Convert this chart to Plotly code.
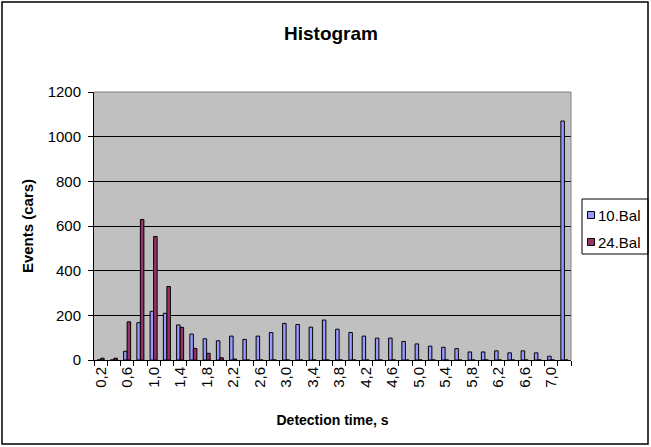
import plotly.graph_objects as go

categories = ["0,2", "0,4", "0,6", "0,8", "1,0", "1,2", "1,4", "1,6", "1,8", "2,0",
              "2,2", "2,4", "2,6", "2,8", "3,0", "3,2", "3,4", "3,6", "3,8", "4,0",
              "4,2", "4,4", "4,6", "4,8", "5,0", "5,2", "5,4", "5,6", "5,8", "6,0",
              "6,2", "6,4", "6,6", "6,8", "7,0", "7,2"]
bal10 = [0, 0, 39, 167, 218, 209, 157, 116, 95, 86,
         107, 92, 107, 123, 164, 159, 147, 179, 138, 123,
         107, 98, 98, 83, 72, 62, 57, 51, 36, 36,
         41, 32, 41, 32, 17, 1070]
bal24 = [8, 8, 171, 629, 553, 329, 146, 52, 30, 10,
         4, 0, 0, 0, 0, 0, 0, 0, 0, 0,
         0, 0, 0, 0, 0, 0, 0, 0, 0, 0,
         0, 0, 0, 0, 0, 0]
series_names = ["10.Bal", "24.Bal"]
series_colors = ["#9999FF", "#993366"]
tick_text = [c if i % 2 == 0 else "" for i, c in enumerate(categories)]

W, H = 651, 447
L, R, T, B = 94, 80, 92, 87
pw, ph = W - L - R, H - T - B

def px(x):
    return (x - L) / pw

def py(y):
    return (H - B - y) / ph

font = "Arial, Liberation Sans, sans-serif"

fig = go.Figure()
for name, vals, col in zip(series_names, [bal10, bal24], series_colors):
    fig.add_trace(go.Bar(x=categories, y=vals, name=name, showlegend=False,
                         marker=dict(color=col, line=dict(color="#000000", width=1))))

fig.update_layout(
    width=W, height=H,
    margin=dict(l=L, r=R, t=T, b=B, autoexpand=False),
    paper_bgcolor="white", plot_bgcolor="#C0C0C0",
    barmode="group", bargap=0.47, bargroupgap=0,
    font=dict(family=font, size=12, color="black"),
    title=dict(text="<b>Histogram</b>", x=331 / W, xanchor="center", xref="container",
               y=1 - 33 / H, yanchor="middle", yref="container",
               font=dict(size=19, family=font)),
    showlegend=False,
)
fig.update_xaxes(type="category", categoryorder="array", categoryarray=categories,
                 tickmode="array", tickvals=categories, ticktext=tick_text,
                 tickson="boundaries", ticks="outside", ticklen=5, tickcolor="black",
                 tickangle=-90, tickfont=dict(size=15, family=font),
                 showline=True, linecolor="black", linewidth=1, showgrid=False,
                 automargin=False,
                 range=[-0.5, len(categories) - 0.5],
                 title=dict(text="<b>Detection time, s</b>", font=dict(size=14, family=font),
                            standoff=28))
fig.update_yaxes(range=[0, 1200], dtick=200, tick0=0, ticks="outside", ticklen=5,
                 tickcolor="black", tickfont=dict(size=15, family=font),
                 ticklabelstandoff=4, automargin=False,
                 showline=True, linecolor="black", linewidth=1,
                 showgrid=True, gridcolor="black", gridwidth=1, zeroline=False,
                 title=dict(text="<b>Events (cars)</b>", font=dict(size=15, family=font),
                            standoff=10))

# plot area border (top/right, gray)
fig.add_shape(type="line", xref="paper", yref="paper", x0=0, x1=1, y0=1, y1=1,
              line=dict(color="#808080", width=1))
fig.add_shape(type="line", xref="paper", yref="paper", x0=1, x1=1, y0=0, y1=1,
              line=dict(color="#808080", width=1))

# legend box (drawn to match the compact original layout)
fig.add_shape(type="rect", xref="paper", yref="paper",
              x0=px(582), x1=px(648), y0=py(254), y1=py(199),
              line=dict(color="black", width=1), fillcolor="white", layer="above")
for i, (name, col) in enumerate(zip(series_names, series_colors)):
    cy = 215 + 27 * i
    fig.add_shape(type="rect", xref="paper", yref="paper",
                  x0=px(587.5), x1=px(594.5), y0=py(cy + 3.5), y1=py(cy - 3.5),
                  line=dict(color="black", width=1), fillcolor=col, layer="above")
    fig.add_annotation(text=name, xref="paper", yref="paper", x=px(596), y=py(cy),
                       xanchor="left", yanchor="middle", showarrow=False,
                       font=dict(size=15, family=font, color="black"))

# outer chart border
fig.add_shape(type="rect", xref="paper", yref="paper",
              x0=px(2), x1=px(648), y0=py(444), y1=py(2),
              line=dict(color="black", width=1.5), fillcolor="rgba(0,0,0,0)", layer="above")

fig.write_html("out.html", config={"displayModeBar": False},
               post_script="document.body.style.margin='0';document.body.style.padding='0';")
